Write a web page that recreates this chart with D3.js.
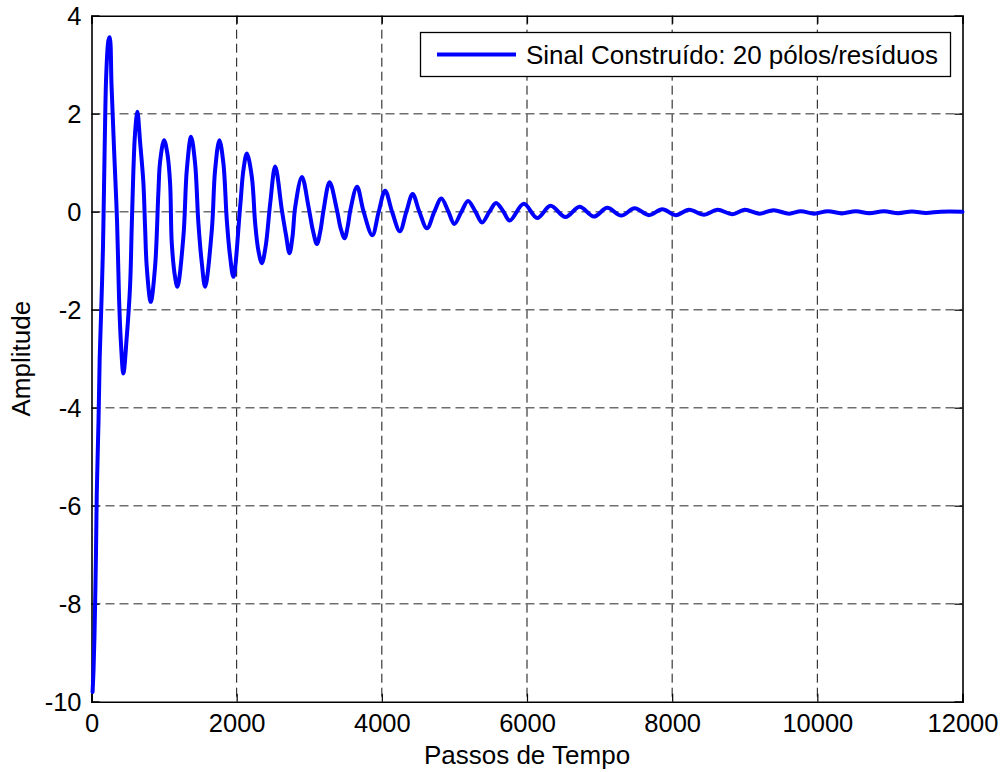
<!DOCTYPE html>
<html>
<head>
<meta charset="utf-8">
<script src="https://cdn.jsdelivr.net/npm/d3@7"></script>
<style>
  html, body { margin: 0; padding: 0; background: #fff; }
  svg { display: block; }
  text { font-family: "Liberation Sans", Arial, Helvetica, sans-serif; fill: #000; }
</style>
</head>
<body>
<svg id="chart" width="1002" height="772"></svg>
<script>
// ---- data ----
const steps = [15, 28, 41, 62, 73, 97, 113, 138, 159, 182, 204, 234, 251, 276, 310, 352, 379, 407, 439,
  486, 531, 554, 576, 600, 632, 669, 714, 738, 761, 816, 876, 921, 945, 1000, 1045, 1083, 1106, 1151, 1183,
  1266, 1313, 1372, 1427, 1473, 1520, 1565, 1658, 1703, 1762, 1817, 1864, 1910, 1955, 2048, 2093, 2140,
  2209, 2255, 2300, 2347, 2400, 2462, 2531, 2623, 2680, 2728, 2770, 2807, 2899, 2990, 3050, 3106, 3155, 3197, 3280, 3382, 3435, 3487, 3530, 3566,
  3658, 3749, 3869, 3957, 4045, 4141, 4248, 4338, 4424, 4517, 4622, 4724, 4820, 4917, 4999, 5097, 5188,
  5290, 5381, 5483, 5574, 5676, 5762, 5956, 6141, 6324, 6531, 6724, 6921, 7106, 7299, 7483, 7680, 7865,
  8048, 8232, 8439, 8623, 8830, 9000, 9197, 9396, 9611, 9772, 9956, 10145, 10336, 10531, 10714, 10917,
  11114, 11303, 11495, 11700, 12000];
const amplitude = [-9.8, -9.35, -8.66, -6.95, -5.72, -4.25, -2.97, -1.8, -0.68, 1.36, 2.83, 3.5, 3.56, 2.58, 1.3, -0.2, -1.74, -2.72, -3.3,
  -2.55, -1.53, -0.33, 0.79, 1.6, 2.04, 1.43, 0.61, -0.31, -1.12, -1.84, -1.12, 0.38, 1.02, 1.46, 1.19, 0.58, -0.64, -1.33, -1.53,
  -0.51, 0.85, 1.53, 0.99, -0.24, -1.05, -1.53, -0.37, 0.85, 1.46, 0.99, -0.17, -0.92, -1.33, 0.1, 0.85, 1.19,
  0.71, -0.24, -0.8, -1.05, -0.7, 0.17, 0.92, 0.03, -0.48, -0.85, -0.5, 0.1, 0.71, 0.1, -0.38, -0.66, -0.38, 0.03, 0.6, 0.03, -0.35, -0.54, -0.3, 0.03,
  0.51, 0.0, -0.48, 0.0, 0.43, 0.0, -0.4, 0.0, 0.36, 0.0, -0.34, 0.0, 0.27, 0.0, -0.25, 0.0, 0.22,
  0.0, -0.22, 0.0, 0.18, 0.0, -0.18, 0.16, -0.13, 0.12, -0.11, 0.1, -0.1, 0.08, -0.08, 0.07, -0.07, 0.05,
  -0.07, 0.04, -0.06, 0.04, -0.05, 0.04, -0.04, 0.03, -0.04, 0.01, -0.04, 0.01, -0.035, 0.01, -0.03, 0.01,
  -0.03, 0.005, -0.025, 0, 0];
const xTicks = [0, 2000, 4000, 6000, 8000, 10000, 12000];
const yTicks = [-10, -8, -6, -4, -2, 0, 2, 4];
const seriesName = "Sinal Construído: 20 pólos/resíduos";
const xLabel = "Passos de Tempo";
const yLabel = "Amplitude";

// ---- layout ----
const svg = d3.select("#chart");
const L = 91.5, R = 962.5, T = 15.7, B = 701.7;
const x = d3.scaleLinear().domain([0, 12000]).range([L, R]);
const y = d3.scaleLinear().domain([-10, 4]).range([B, T]);
const FS = 25.5;
const fmt = d => String(d);

svg.append("rect").attr("width", 1002).attr("height", 772).attr("fill", "#fff");

// grid
const grid = svg.append("g");
grid.selectAll("line.gx").data(xTicks.slice(1, -1)).enter().append("line")
  .attr("x1", d => x(d)).attr("x2", d => x(d)).attr("y1", T).attr("y2", B)
  .attr("stroke", "#111").attr("stroke-width", 1).attr("stroke-dasharray", "9,5");
grid.selectAll("line.gy").data(yTicks.slice(1, -1)).enter().append("line")
  .attr("x1", L).attr("x2", R).attr("y1", d => y(d)).attr("y2", d => y(d))
  .attr("stroke", "#6e6e6e").attr("stroke-width", 1.4).attr("stroke-dasharray", "9,5");

// axes (MATLAB style, ticks inward, box)
const tickLen = 8;
const axB = svg.append("g").attr("transform", `translate(0,${B})`)
  .call(d3.axisBottom(x).tickValues(xTicks).tickSize(-tickLen).tickPadding(12).tickFormat(fmt));
const axT = svg.append("g").attr("transform", `translate(0,${T})`)
  .call(d3.axisTop(x).tickValues(xTicks).tickSize(-tickLen).tickFormat(""));
const axL = svg.append("g").attr("transform", `translate(${L},0)`)
  .call(d3.axisLeft(y).tickValues(yTicks).tickSize(-tickLen).tickPadding(10).tickFormat(fmt));
const axR = svg.append("g").attr("transform", `translate(${R},0)`)
  .call(d3.axisRight(y).tickValues(yTicks).tickSize(-tickLen).tickFormat(""));
[axB, axT, axL, axR].forEach(a => {
  a.select(".domain").attr("stroke", "#000").attr("stroke-width", 1.6);
  a.selectAll(".tick line").attr("stroke", "#000").attr("stroke-width", 1.2);
  a.selectAll(".tick text").attr("font-size", FS).attr("font-family", "Liberation Sans, Arial, sans-serif").attr("fill", "#000");
});
axL.selectAll(".tick text").attr("dy", "0.36em");

// line
const line = d3.line().x((d, i) => x(steps[i])).y(d => y(d)).curve(d3.curveCatmullRom.alpha(0.5));
svg.append("path").datum(amplitude)
  .attr("d", line).attr("fill", "none").attr("stroke", "#0000ff")
  .attr("stroke-width", 4).attr("stroke-linejoin", "round").attr("stroke-linecap", "round");

// legend
const lg = svg.append("g");
lg.append("rect").attr("x", 420.5).attr("y", 32.5).attr("width", 530).attr("height", 44)
  .attr("fill", "#fff").attr("stroke", "#000").attr("stroke-width", 1.3);
lg.append("line").attr("x1", 437).attr("x2", 516).attr("y1", 54.5).attr("y2", 54.5)
  .attr("stroke", "#0000ff").attr("stroke-width", 4);
lg.append("text").attr("x", 526).attr("y", 63.5).attr("font-size", 26).text(seriesName);

// axis labels
svg.append("text").attr("x", (L + R) / 2).attr("y", 764).attr("text-anchor", "middle")
  .attr("font-size", 26).text(xLabel);
svg.append("text").attr("transform", `translate(30,${(T + B) / 2}) rotate(-90)`)
  .attr("text-anchor", "middle").attr("font-size", 26).text(yLabel);
</script>
</body>
</html>
